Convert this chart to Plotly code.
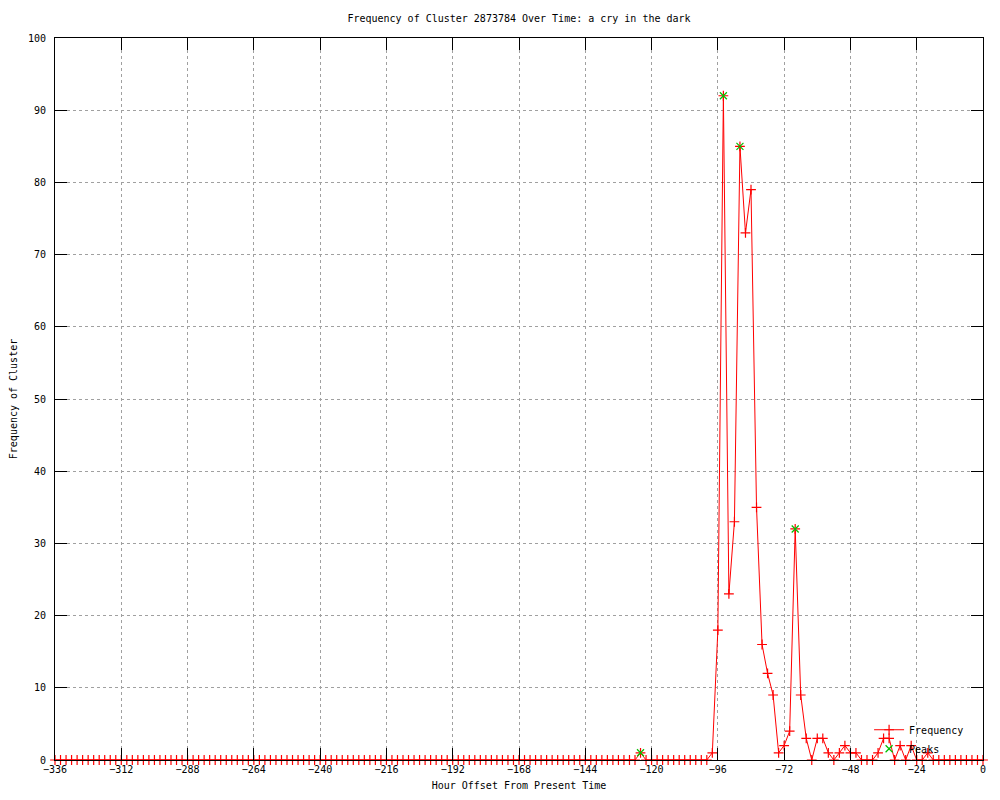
import plotly.graph_objects as go

# Hour offsets (every 2 hours from -336 to 0)
hours = list(range(-336, 1, 2))

# Frequency values, one row per 24 hours starting at -336
freq = [
    0, 0, 0, 0, 0, 0, 0, 0, 0, 0, 0, 0,      # -336 .. -314
    0, 0, 0, 0, 0, 0, 0, 0, 0, 0, 0, 0,      # -312 .. -290
    0, 0, 0, 0, 0, 0, 0, 0, 0, 0, 0, 0,      # -288 .. -266
    0, 0, 0, 0, 0, 0, 0, 0, 0, 0, 0, 0,      # -264 .. -242
    0, 0, 0, 0, 0, 0, 0, 0, 0, 0, 0, 0,      # -240 .. -218
    0, 0, 0, 0, 0, 0, 0, 0, 0, 0, 0, 0,      # -216 .. -194
    0, 0, 0, 0, 0, 0, 0, 0, 0, 0, 0, 0,      # -192 .. -170
    0, 0, 0, 0, 0, 0, 0, 0, 0, 0, 0, 0,      # -168 .. -146
    0, 0, 0, 0, 0, 0, 0, 0, 0, 0, 1, 0,      # -144 .. -122
    0, 0, 0, 0, 0, 0, 0, 0, 0, 0, 0, 1,      # -120 .. -98
    18, 92, 23, 33, 85, 73, 79, 35, 16, 12, 9, 1,  # -96 .. -74
    2, 4, 32, 9, 3, 0, 3, 3, 1, 0, 1, 2,     # -72 .. -50
    1, 1, 0, 0, 0, 1, 3, 3, 0, 2, 0, 2,      # -48 .. -26
    0, 0, 1, 0, 0, 0, 0, 0, 0, 0, 0, 0,      # -24 .. -2
    0,                                       # 0
]

peak_hours = [-124, -94, -88, -68]
peak_values = [1, 92, 85, 32]

x_ticks = list(range(-336, 1, 24))
y_ticks = list(range(0, 101, 10))

FONT = "DejaVu Sans Mono"

fig = go.Figure()
fig.add_trace(go.Scatter(
    x=hours, y=freq, mode="lines+markers", name="Frequency",
    line=dict(color="#ff0000", width=1),
    marker=dict(symbol="cross-thin", size=7, color="#ff0000",
                line=dict(color="#ff0000", width=1.2)),
    cliponaxis=False,
))
fig.add_trace(go.Scatter(
    x=peak_hours, y=peak_values, mode="markers", name="Peaks",
    marker=dict(symbol="x-thin", size=7, color="#00c000",
                line=dict(color="#00c000", width=1.2)),
    cliponaxis=False,
))

axis_common = dict(
    showline=True, linecolor="black", linewidth=1, mirror="ticks",
    ticks="inside", ticklen=12, tickcolor="black", tickwidth=1,
    showgrid=True, gridcolor="#a0a0a0", griddash="dot", gridwidth=1,
    zeroline=False, automargin=False,
    tickfont=dict(family=FONT, size=10, color="black"),
)

fig.update_layout(
    width=1000, height=800,
    paper_bgcolor="white", plot_bgcolor="white",
    margin=dict(l=47, r=25, t=30, b=48),
    font=dict(family=FONT, size=10, color="black"),
    title=dict(text="Frequency of Cluster 2873784 Over Time: a cry in the dark",
               x=0.5, xref="paper", xanchor="center",
               y=1 - 10 / 800, yref="container", yanchor="middle",
               automargin=False,
               font=dict(family=FONT, size=10, color="black")),
    xaxis=dict(range=[-336, 0], tickvals=x_ticks,
               title=dict(text="Hour Offset From Present Time", standoff=7,
                          font=dict(family=FONT, size=10)),
               **axis_common),
    yaxis=dict(range=[0, 100], tickvals=y_ticks, ticklabelstandoff=6,
               title=dict(text="Frequency of Cluster", standoff=17,
                          font=dict(family=FONT, size=10)),
               **axis_common),
    showlegend=True,
    legend=dict(x=0.985, xanchor="right", y=0.062, yanchor="top",
                bgcolor="rgba(0,0,0,0)", borderwidth=0,
                font=dict(family=FONT, size=10), tracegroupgap=0,
                itemwidth=30),
)

fig.write_html("out.html")
